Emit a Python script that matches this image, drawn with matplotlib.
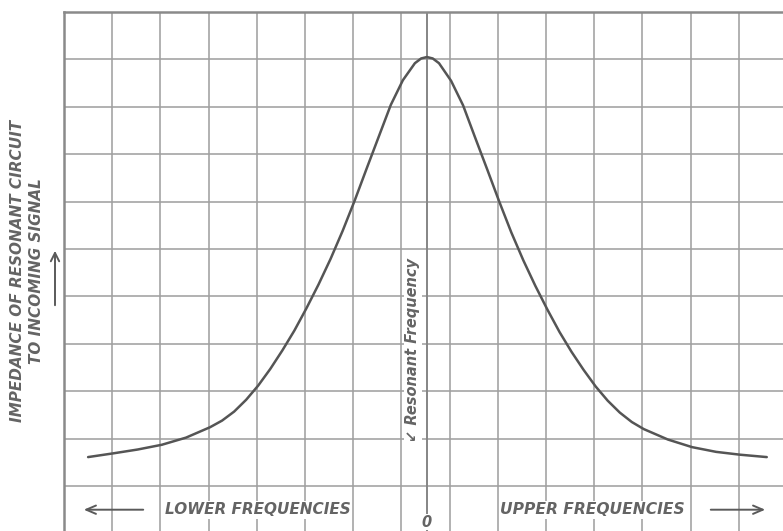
import matplotlib
matplotlib.use("Agg")
import matplotlib.pyplot as plt
from matplotlib.patches import FancyArrowPatch

# resonance curve, read in grid squares
# offset: distance from resonant frequency (squares), impedance: height above the lowest ruled line
offset = [-7.03, -6.5, -6.0, -5.5, -5.0, -4.5, -4.25, -4.0, -3.75, -3.5,
          -3.25, -3.0, -2.75, -2.5, -2.25, -2.0, -1.75, -1.5, -1.25, -1.0,
          -0.75, -0.5, -0.25, -0.12, 0.0, 0.12, 0.25, 0.5, 0.75, 1.0, 1.25, 1.5,
          1.75, 2.0, 2.25, 2.5, 2.75, 3.0, 3.25, 3.5, 3.75, 4.0,
          4.25, 4.5, 5.0, 5.5, 6.0, 6.5, 7.05]
impedance = [0.61, 0.69, 0.77, 0.87, 1.02, 1.24, 1.38, 1.57, 1.82, 2.12,
             2.47, 2.86, 3.28, 3.75, 4.25, 4.79, 5.38, 6.02, 6.70, 7.37,
             8.04, 8.56, 8.92, 9.02, 9.05, 9.02, 8.92, 8.55, 8.03, 7.35, 6.68, 6.00,
             5.35, 4.76, 4.22, 3.72, 3.25, 2.83, 2.45, 2.10, 1.80, 1.55,
             1.35, 1.20, 0.98, 0.82, 0.72, 0.66, 0.61]

resonance = 7.53          # position of resonant frequency on the ruled grid
n_cols, n_rows = 15, 10

axis_label = "IMPEDANCE OF RESONANT CIRCUIT\nTO INCOMING SIGNAL"
lower_label = "LOWER FREQUENCIES"
upper_label = "UPPER FREQUENCIES"
res_label = "\u2199 Resonant Frequency"

W, H = 783, 531
cell_w = 48.2
fig = plt.figure(figsize=(W / 100, H / 100), dpi=100)
fig.patch.set_facecolor("white")

ax = fig.add_axes([64 / W, -2.4 / H, 723 / W, 521.4 / H])
ax.set_xlim(0, n_cols)
ax.set_ylim(-1, n_rows)

grid_col = "#a0a0a0"
ink = "#555555"

for i in range(1, n_cols + 1):
    ax.axvline(i, color=grid_col, lw=1.15, zorder=1)
for j in range(-1, n_rows):
    ax.axhline(j, color=grid_col, lw=1.15, zorder=1)

for side in ["right", "bottom"]:
    ax.spines[side].set_visible(False)
for side in ["left", "top"]:
    ax.spines[side].set_color("#8a8a8a")
    ax.spines[side].set_linewidth(1.8)
ax.set_xticks([])
ax.set_yticks([])

# resonant frequency line
ax.axvline(resonance, color="#858585", lw=1.4, zorder=2)

x = [resonance + o for o in offset]
ax.plot(x, impedance, color=ink, lw=1.8, solid_joinstyle="round",
        solid_capstyle="round", zorder=3)

font = dict(family=["DejaVu Sans"], style="italic", weight="bold", color="#646464")
box = dict(facecolor="white", edgecolor="none", pad=1.0)

ax.text(resonance - 0.29, 2.87, res_label, rotation=90, ha="center", va="center",
        fontsize=10.5, bbox=box, zorder=4, **font)
ax.text(resonance, -0.76, "0", ha="center", va="center", fontsize=10.5,
        bbox=dict(facecolor="white", edgecolor="none", pad=0.3), zorder=4, **font)

ax.text((165 - 64) / cell_w, -0.5, lower_label, ha="left", va="center",
        fontsize=11, bbox=box, zorder=4, **font)
ax.text((500 - 64) / cell_w, -0.5, upper_label, ha="left", va="center",
        fontsize=11.2, bbox=box, zorder=4, **font)

arrow = dict(arrowstyle="->,head_length=0.7,head_width=0.3", color="#5a5a5a", lw=1.4)
ax.annotate("", xy=((81 - 64) / cell_w, -0.5), xytext=((146 - 64) / cell_w, -0.5),
            arrowprops=arrow, annotation_clip=False, zorder=4)
ax.annotate("", xy=((768 - 64) / cell_w, -0.5), xytext=((708 - 64) / cell_w, -0.5),
            arrowprops=arrow, annotation_clip=False, zorder=4)

fig.text(27 / W, 1 - 271 / H, axis_label, rotation=90, ha="center", va="center",
         fontsize=11, linespacing=1.35, **font)
fig.patches.append(FancyArrowPatch(
    (55 / W, 1 - 308 / H), (55 / W, 1 - 248 / H), transform=fig.transFigure,
    arrowstyle="->,head_length=6,head_width=3", color="#5a5a5a", lw=1.4))

fig.savefig("out.png", dpi=100, facecolor="white")
